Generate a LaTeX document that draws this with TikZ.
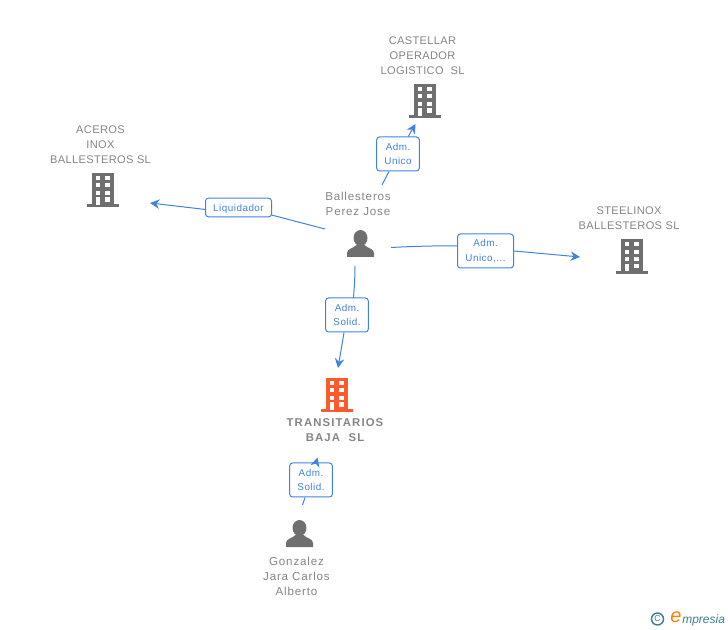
\documentclass[tikz,border=0pt]{standalone}
\usepackage{fontspec}
\setmainfont{Liberation Sans}
\newfontfamily\firmfont[LetterSpace=3.2]{Liberation Sans}
\newfontfamily\peoplefont[LetterSpace=7]{Liberation Sans}
\newfontfamily\mainfont[LetterSpace=10]{Liberation Sans}
\newfontfamily\rolefont[LetterSpace=5]{Liberation Sans}
\usetikzlibrary{arrows.meta}
\definecolor{linkblue}{HTML}{3F83E0}
\definecolor{namegrey}{HTML}{858585}
\definecolor{iconfill}{HTML}{6F6F6F}
\definecolor{mainorange}{HTML}{FF5A2B}
\definecolor{logoteal}{HTML}{3D7F93}
\tikzset{
  entity/.style={text=namegrey,font=\firmfont\fontsize{8.3}{11.2}\selectfont,align=center,inner sep=0pt},
  personname/.style={entity,font=\peoplefont\fontsize{8.7}{11.2}\selectfont},
  mainentity/.style={entity,font=\mainfont\fontsize{8.5}{11.2}\selectfont\bfseries},
  role/.style={draw=linkblue,fill=white,rounded corners=2.2pt,line width=.75pt,text=linkblue,
    font=\rolefont\fontsize{7.4}{11.2}\selectfont,align=center,inner sep=0pt,
    execute at begin node=\rule{0pt}{6.8pt}},
  link/.style={draw=linkblue,line width=.75pt},
  linkend/.style={link,-{Stealth[length=7pt,width=7pt]}},
  pics/building/.style={code={
    \fill[#1] (-11,-16.5) rectangle (11,15);
    \fill[#1] (-16,15) rectangle (16,18);
    \foreach \wy in {-13.7,-6.2,1.3} \foreach \wx in {-7.2,2.3}
      \fill[white] (\wx,\wy) rectangle ++(4.6,4.2);
    \fill[white] (2.3,8) rectangle ++(4.6,4.2);
    \fill[white] (-7.2,8) rectangle (-2.6,15.5);
  }},
  pics/person/.style={code={
    \fill[iconfill] (0,-6) ellipse (7 and 8);
    \fill[iconfill] (-13.5,13) -- (-13.5,9) .. controls (-13.5,4.5) and (-7,4.5) .. (-4,1) -- (4,1)
      .. controls (7,4.5) and (13.5,4.5) .. (13.5,9) -- (13.5,13) -- cycle;
  }}
}
\begin{document}
\begin{tikzpicture}[x=.75pt,y=-.75pt]
\useasboundingbox (0,0) rectangle (728,630);
% firms
\pic at (425,100.5) {building=iconfill};
\pic at (103,189.5) {building=iconfill};
\pic at (632,256) {building=iconfill};
\pic at (337,394.5) {building=mainorange};
\node[entity] (castellar) at (422.5,55.5) {CASTELLAR\\OPERADOR\\LOGISTICO\ \ SL};
\node[entity] (aceros) at (100.5,144.5) {ACEROS\\INOX\\BALLESTEROS SL};
\node[entity] (steelinox) at (629,218) {STEELINOX\\BALLESTEROS SL};
\node[mainentity] (transitarios) at (335,430) {TRANSITARIOS\\BAJA\ \ SL};
% people
\pic at (360.5,244) {person};
\pic at (299.5,534) {person};
\node[personname] (ballesteros) at (358,203.5) {Ballesteros\\Perez Jose};
\node[personname] (gonzalez) at (296.5,576) {Gonzalez\\Jara Carlos\\Alberto};
% roles
\node[role,minimum width=32pt,minimum height=25.5pt] (unico) at (398,154) {Adm.\\Unico};
\node[role,minimum width=49.5pt,minimum height=14pt] (liquidador) at (238.5,207.5) {Liquidador};
\node[role,minimum width=42pt,minimum height=25.5pt] (unicob) at (485.5,251) {Adm.\\Unico,...};
\node[role,minimum width=32pt,minimum height=25.5pt] (solid) at (347,315) {Adm.\\Solid.};
\node[role,minimum width=32pt,minimum height=25.5pt] (solidb) at (311,480) {Adm.\\Solid.};
% free ends
\coordinate (castellarin) at (415.5,124);
\coordinate (acerosin) at (150,203);
\coordinate (steelinoxin) at (580,257);
\coordinate (transitariosin) at (338,368);
\coordinate (transitariosinb) at (317.5,457.5);
\coordinate (fromunico) at (382,185);
\coordinate (fromliquidador) at (325,229);
\coordinate (fromunicob) at (391,247.5);
\coordinate (fromsolid) at (355,266);
\coordinate (fromsolidb) at (302.5,505);
\coordinate (solidtop) at (353.5,298);
\coordinate (unicobleft) at (457.5,245.8);
\coordinate (liquidadorleft) at (205.5,209.5);
\coordinate (liquidadorright) at (271.5,215);
% links
\draw[link] (fromunico) -- (unico);
\draw[linkend] (unico) -- (castellarin);
\draw[link] (fromliquidador) -- (liquidadorright);
\draw[linkend] (liquidadorleft) -- (acerosin);
\draw[link] (fromunicob) .. controls (415,246.2) and (435,245.8) .. (unicobleft);
\draw[linkend] (unicob.east) -- (steelinoxin);
\draw[link] (fromsolid) .. controls (355,280) and (354,290) .. (solidtop);
\draw[linkend] (solid) -- (transitariosin);
\draw[link] (fromsolidb) -- (solidb);
\draw[linkend] (solidb) -- (transitariosinb);
% logo
\draw[logoteal,line width=1.1pt] (657.5,619) circle (6);
\node[text=logoteal,font=\fontsize{6.5}{7}\selectfont,inner sep=0pt] (copyright) at (657.5,619) {C};
\node[text=orange,font=\fontsize{15}{15}\selectfont\itshape,inner sep=0pt] (logoe) at (676,617.5) {e};
\node[text=logoteal,font=\fontsize{9}{10}\selectfont\itshape,inner sep=0pt,anchor=west] (logotext) at (682,620) {mpresia};
\end{tikzpicture}
\end{document}
